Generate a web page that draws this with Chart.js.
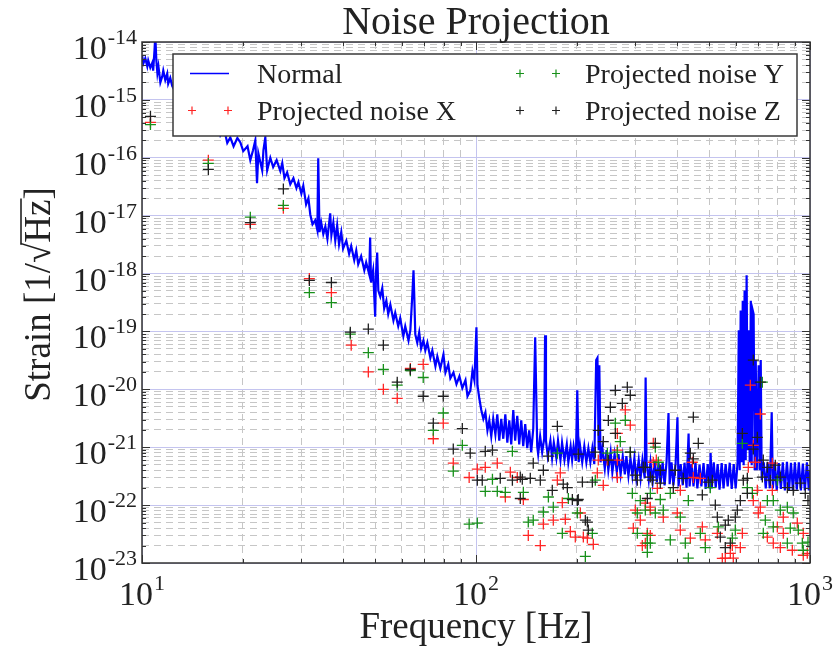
<!DOCTYPE html>
<html>
<head>
<meta charset="utf-8">
<script src="https://cdn.jsdelivr.net/npm/chart.js@4.4.1/dist/chart.umd.min.js"></script>
<style>
  body { margin: 0; background: #fff; }
  #wrap { width: 837px; height: 656px; }
</style>
</head>
<body>
<div id="wrap"><canvas id="noise" width="837" height="656"></canvas></div>
<script>
// Curva "Normal" (frecuencia en Hz, strain en 1/sqrt(Hz))
const normalFreq = [
  10.0, 10.1, 10.23, 10.37, 10.44, 10.59, 10.74, 10.8, 10.9, 10.96, 11.04, 11.12, 11.2, 11.35, 11.5, 11.58,
  11.74, 11.9, 11.98, 12.15, 12.32, 12.5, 13.02, 13.6, 14.1, 14.8, 15.4, 16.0, 16.7, 17.16, 17.6, 18.0,
  18.38, 18.8, 19.3, 19.7, 20.1, 20.7, 21.1, 21.5, 21.84, 22.1, 22.3, 22.9, 23.1, 23.4, 23.7, 24.22,
  24.7, 25.3, 25.95, 26.3, 26.7, 27.2, 27.8, 28.4, 29.0, 29.4, 30.0, 30.4, 31.0, 31.5, 31.9, 32.4,
  33.0, 33.5, 33.7, 34.0, 34.4, 34.9, 35.4, 35.9, 36.6, 36.9, 37.4, 37.9, 38.4, 38.9, 39.5, 40.0,
  40.9, 41.7, 42.3, 43.2, 43.8, 44.4, 45.3, 46.3, 46.9, 47.9, 48.2, 48.5, 49.2, 49.9, 50.2, 50.6,
  51.0, 51.7, 52.4, 53.1, 53.9, 54.6, 55.4, 56.6, 57.3, 58.5, 59.3, 60.6, 61.4, 62.8, 63.6, 64.5,
  65.0, 65.4, 65.8, 66.7, 67.6, 68.5, 69.6, 70.5, 71.5, 73.0, 74.0, 75.6, 76.6, 78.2, 79.9, 81.0,
  82.6, 83.8, 85.6, 87.4, 89.2, 91.0, 93.0, 94.3, 96.2, 97.6, 98.9, 100.3, 101, 102.3, 103.7, 105.2,
  106.7, 108.2, 109.6, 111.1, 112.6, 114.3, 115.8, 117.4, 119.0, 120.7, 122.4, 124.1, 125.8, 127.5, 129.3, 131,
  132.9, 134.7, 136.6, 138.5, 140.4, 142.4, 144.3, 146.3, 148.4, 149.4, 150.4, 151.4, 152.5, 153.5, 155.6, 157.8,
  160, 161, 162, 164, 167, 169, 171, 174, 176, 179, 181, 184, 187, 189, 192, 194,
  196, 199, 201, 203, 205, 208, 211, 214, 217, 220, 223, 226, 229, 231, 233, 234,
  236, 239, 243, 246, 249, 253, 256, 260, 264, 267, 271, 275, 279, 282, 286, 290,
  294, 298, 302, 307, 311, 315, 320, 322, 324, 329, 333, 338, 343, 348, 352, 357,
  362, 367, 372, 377, 380, 385, 390, 396, 401, 404, 410, 416, 421, 427, 433, 436,
  442, 448, 454, 460, 467, 473, 480, 487, 494, 501, 504, 508, 515, 522, 529, 536,
  544, 551, 559, 567, 575, 583, 591, 599, 607, 612, 616, 620, 624, 629, 633, 637,
  642, 646, 651, 655, 660, 665, 669, 674, 678, 683, 688, 693, 702, 707, 712, 717,
  727, 737, 747, 758, 768, 774, 785, 795, 806, 818, 829, 841, 853, 865, 877, 889,
  901, 913, 926, 939, 952, 965, 979, 992, 1000
];
const normalStrain = [
  5.9e-15, 4.3e-15, 5.2e-15, 3.8e-15, 4.8e-15, 3.6e-15, 4.4e-15, 3.2e-15, 7.2e-15, 1.3e-14, 4.8e-15, 2.9e-15, 3.8e-15, 2.0e-15, 2.55e-15, 3.2e-15,
  2.2e-15, 2.85e-15, 1.9e-15, 2.4e-15, 1.73e-15, 1.47e-15, 1.15e-15, 8.4e-16, 1.0e-15, 5.6e-16, 6.6e-16, 3.75e-16, 4.4e-16, 2.45e-16, 3.2e-16, 1.8e-16,
  2.25e-16, 1.58e-16, 2.2e-16, 1.84e-16, 1.3e-16, 1.58e-16, 9.1e-17, 1.35e-16, 2.0e-16, 3.65e-17, 1.2e-16, 6.1e-17, 1.35e-16, 2.25e-16, 6.1e-17, 1.0e-16,
  6.9e-17, 9.1e-17, 5.9e-17, 8.1e-17, 4.45e-17, 5.6e-17, 3.5e-17, 4.45e-17, 3.0e-17, 3.8e-17, 2.4e-17, 3.3e-17, 1.56e-17, 2.0e-17, 1.05e-17, 7.1e-18,
  8.3e-18, 5.6e-18, 9.8e-17, 5.2e-18, 7.6e-18, 4.8e-18, 6.5e-18, 4.0e-18, 1.1e-17, 4.6e-18, 7.6e-18, 3.7e-18, 6.8e-18, 3.2e-18, 5.2e-18, 2.7e-18,
  3.7e-18, 2.2e-18, 3.0e-18, 1.7e-18, 2.5e-18, 1.45e-18, 2.0e-18, 1.14e-18, 1.56e-18, 9.7e-19, 4.2e-18, 7.0e-19, 1.14e-18, 1.8e-19, 1.05e-18, 2.3e-18,
  5.1e-19, 4.0e-19, 5.6e-19, 2.5e-19, 3.4e-19, 2.0e-19, 2.9e-19, 1.55e-19, 2.1e-19, 1.23e-19, 1.7e-19, 8.3e-20, 1.23e-19, 7.0e-20, 1.05e-19, 4.5e-19,
  1.14e-18, 3.4e-19, 8.9e-20, 6.4e-20, 9.7e-20, 5.1e-20, 7.0e-20, 4.7e-20, 6.4e-20, 3.5e-20, 4.7e-20, 2.5e-20, 3.7e-20, 2.3e-20, 4.0e-20, 1.95e-20,
  2.7e-20, 1.55e-20, 1.95e-20, 1.23e-20, 1.68e-20, 1.05e-20, 1.44e-20, 7.6e-21, 9.6e-21, 2.1e-20, 1.44e-20, 1.18e-19, 1.18e-20, 7.0e-21, 4.4e-21, 3.1e-21,
  4.0e-21, 1.96e-21, 2.9e-21, 1.54e-21, 3.1e-21, 1.66e-21, 3.7e-21, 1.3e-21, 3.1e-21, 1.4e-21, 3.7e-21, 1.2e-21, 2.9e-21, 1.12e-21, 4.4e-21, 1.3e-21,
  3.5e-21, 1.12e-21, 2.9e-21, 1.04e-21, 2.5e-21, 9.6e-22, 1.96e-21, 8.2e-22, 2.1e-21, 1.44e-20, 7.9e-20, 9.6e-21, 1.04e-21, 7.6e-22, 1.54e-21, 8.2e-22,
  1.4e-21, 8.6e-20, 1.3e-21, 7.0e-22, 1.3e-21, 6.5e-22, 1.2e-21, 6.5e-22, 1.3e-21, 6.0e-22, 1.2e-21, 6.0e-22, 1.12e-21, 5.5e-22, 1.04e-21, 6.0e-22,
  1.04e-21, 5.8e-22, 9.6e-21, 5.5e-22, 1.04e-21, 5.5e-22, 1.04e-21, 5.5e-22, 9.6e-22, 5.5e-22, 9.6e-22, 5.1e-22, 3.2e-20, 3.5e-20, 8.9e-22, 2.6e-20,
  5.5e-22, 9.6e-22, 4.3e-22, 8.9e-22, 4.0e-22, 8.2e-22, 3.7e-22, 7.6e-22, 3.7e-22, 7.6e-22, 3.4e-22, 7.0e-22, 3.4e-22, 7.0e-22, 3.2e-22, 6.5e-22,
  3.2e-22, 6.5e-22, 2.9e-22, 6.0e-22, 2.9e-22, 6.0e-22, 2.9e-22, 1.6e-20, 5.5e-22, 2.7e-22, 5.5e-22, 2.5e-22, 5.8e-22, 2.5e-22, 5.3e-22, 2.3e-22,
  5.5e-22, 2.2e-22, 5.7e-22, 3.9e-21, 2.3e-22, 5.5e-22, 2.2e-22, 5.3e-22, 3.3e-21, 2.1e-22, 5.1e-22, 2.2e-22, 5.4e-22, 2.0e-22, 1.73e-21, 2.1e-22,
  5.1e-22, 2.1e-22, 5.5e-22, 1.95e-22, 5.0e-22, 2.1e-22, 5.3e-22, 1.9e-22, 5.1e-22, 1.95e-22, 7.9e-22, 1.95e-22, 5.5e-22, 2.0e-22, 5.1e-22, 1.85e-22,
  5.3e-22, 1.95e-22, 5.1e-22, 2.1e-22, 5.4e-22, 1.9e-22, 5.1e-22, 1.95e-22, 5.5e-22, 1.05e-19, 4.0e-22, 2.3e-19, 5.5e-22, 3.4e-19, 4.9e-22, 5.1e-19,
  6.0e-22, 9.3e-19, 8.9e-22, 1.05e-19, 5.5e-22, 3.4e-19, 4.9e-22, 2.3e-19, 2.0e-19, 4.0e-22, 3.2e-20, 4.0e-22, 2.6e-20, 4.0e-22, 3.2e-20, 2.7e-22,
  5.5e-22, 1.95e-22, 5.5e-22, 1.95e-22, 4.0e-21, 1.95e-22, 5.5e-22, 1.8e-22, 5.3e-22, 1.9e-22, 5.5e-22, 1.8e-22, 5.6e-22, 1.75e-22, 5.4e-22, 1.8e-22,
  5.5e-22, 1.85e-22, 5.5e-22, 1.8e-22, 5.2e-22, 1.8e-22, 5.5e-22, 1.8e-22, 4.0e-22
];

// Ruido proyectado X (rojo)
const noiseXFreq = [
  10.6, 15.8, 21.1, 26.5, 31.7, 36.9, 42.3, 47.6, 52.8, 58.1, 63.6, 69.5, 79.8, 74.5, 85.5, 95.4,
  100.9, 106.6, 115.8, 126.7, 132.9, 122.4, 138.6, 143.4, 155.8, 159.1, 170.4, 175.2, 178.8, 181.3, 185.1, 191.6,
  198.3, 205.3, 215.5, 224.5, 209.6, 232.3, 230.8, 240.5, 247.3, 265, 265, 279.9, 289.7, 265, 265, 339.5,
  339.5, 299.9, 310.4, 321.3, 332.6, 295.8, 332.6, 314.7, 346.6, 444.3, 447.4, 469.5, 349, 332.6, 363.7, 400.6,
  409, 325.8, 321.3, 409, 438.2, 476, 485.9, 527.9, 546.3, 577.3, 585.4, 618.5, 627.2, 557.7, 589.3, 662.7,
  710, 676.4, 685.9, 653.5, 695.5, 771.2, 771.2, 676.4, 710, 700.3, 831.8, 916.2, 798.3, 831.8, 954.6, 745.2,
  776.4, 814.9, 885.2, 981.5, 954.6
];
const noiseXStrain = [
  4.1e-16, 9.1e-17, 7.1e-18, 1.34e-17, 8.2e-19, 4.7e-19, 5.8e-20, 2.0e-20, 1.0e-20, 7.0e-21, 2.3e-20, 2.7e-20, 2.6e-21, 1.4e-21, 5.3e-22, 3.0e-22,
  4.2e-22, 4.5e-22, 5.3e-22, 3.7e-22, 3.0e-22, 1.38e-22, 1.25e-22, 3.0e-23, 2.0e-23, 4.7e-23, 5.5e-23, 2.7e-22, 3.6e-22, 1.1e-22, 5.7e-23, 3.5e-23,
  2.8e-23, 7.3e-23, 2.7e-23, 2.1e-23, 2.8e-23, 6.0e-22, 3.6e-22, 2.2e-22, 6.0e-22, 6.0e-22, 3.0e-22, 4.4e-21, 2.4e-21, 1.73e-21, 8.9e-22, 1.17e-21,
  5.5e-22, 8.2e-23, 5.5e-23, 1.08e-22, 8.2e-23, 4.0e-23, 3.0e-23, 2.0e-23, 6.0e-22, 5.5e-22, 3.0e-22, 2.9e-22, 1.95e-22, 9.2e-23, 6.2e-23, 7.3e-23,
  1.8e-22, 3.25e-23, 2.2e-23, 3.7e-23, 2.7e-23, 4.2e-23, 2.5e-23, 3.25e-23, 1.2e-23, 1.47e-23, 2.0e-23, 1.85e-23, 3.25e-23, 1.21e-23, 1.21e-23, 1.18e-20,
  3.75e-21, 1.08e-21, 5.5e-22, 4.5e-22, 1.8e-22, 5.3e-22, 1.8e-22, 1.2e-22, 9.2e-23, 7.3e-23, 6.2e-23, 4.9e-23, 4.2e-23, 3.25e-23, 3.25e-23, 2.8e-23,
  2.2e-23, 1.85e-23, 1.66e-23, 1.47e-23, 1.36e-23
];

// Ruido proyectado Y (verde)
const noiseYFreq = [
  10.6, 15.8, 21.1, 26.5, 31.7, 36.9, 42.04, 47.6, 52.8, 58.1, 63.6, 69.5, 79.8, 74.5, 91.0, 85.5,
  95.4, 100.9, 128.5, 112, 106.6, 115.8, 122.4, 138.6, 164.7, 175.2, 159.1, 148.4, 143.4, 170.4, 189, 181.3,
  201.1, 223, 212.5, 227.6, 247.3, 265, 279.9, 261.3, 270.4, 289.7, 293.8, 304.1, 321.3, 304.1, 325.8, 325.8,
  332.6, 344.2, 351.4, 332.6, 310.4, 356.3, 381.7, 344.2, 363.7, 409, 432.2, 502.9, 325.8, 381.7, 423.3, 469.5,
  485.9, 531.4, 585.4, 597.5, 432.2, 627.2, 720, 649.2, 672, 798.3, 745.2, 776.4, 734.9, 814.9, 855.3, 891.1,
  776.4, 873, 922.5, 724.7, 855.3, 948.5, 954.6, 986.2
];
const noiseYStrain = [
  3.75e-16, 8.0e-17, 9.4e-18, 1.5e-17, 4.7e-19, 3.15e-19, 9.0e-20, 4.3e-20, 2.2e-20, 1.18e-20, 2.1e-20, 1.6e-20, 3.9e-21, 1.96e-21, 1.08e-21, 3.85e-22,
  4.7e-23, 4.9e-23, 8.5e-22, 2.8e-22, 1.73e-22, 1.73e-22, 1.66e-22, 1.66e-22, 1.38e-22, 7.9e-22, 7.6e-23, 5.5e-23, 5.1e-23, 9.2e-23, 1.3e-22, 3.25e-23,
  7.3e-23, 3.25e-23, 1.3e-23, 2.7e-22, 7.9e-22, 8.2e-22, 2.9e-21, 2.6e-21, 1.25e-21, 8.2e-22, 1.6e-22, 7.3e-23, 8.2e-23, 3.25e-23, 3.0e-23, 1.53e-23,
  2.2e-23, 1.0e-21, 5.5e-22, 1.6e-22, 1.2e-22, 1.25e-22, 1.6e-22, 7.3e-23, 8.2e-23, 6.2e-23, 1.2e-22, 2.0e-22, 2.2e-23, 2.5e-23, 2.2e-23, 3.25e-23,
  1.85e-23, 4.2e-23, 2.7e-23, 3.7e-23, 1.21e-23, 1.17e-21, 1.33e-20, 2.0e-22, 1.6e-22, 2.7e-22, 1.2e-22, 1.2e-22, 5.5e-23, 8.2e-23, 9.2e-23, 7.3e-23,
  4.2e-23, 4.0e-23, 3.7e-23, 3.25e-23, 2.2e-23, 2.2e-23, 1.66e-23, 2.3e-23
];

// Ruido proyectado Z (negro)
const noiseZFreq = [
  10.6, 15.8, 21.1, 26.5, 31.7, 36.9, 42.04, 47.6, 52.8, 58.1, 63.6, 69.5, 79.8, 74.5, 91.0, 85.5,
  96.1, 100.9, 106.6, 112, 104.4, 118.2, 128.5, 137.6, 145.4, 135.7, 148.4, 159.1, 175.2, 164.7, 169.2, 182.5,
  194.3, 202.4, 202.4, 208.2, 223, 212.5, 216.9, 227.6, 232.3, 249, 261.3, 283.8, 289.7, 274.2, 252.5, 249,
  261.3, 289.7, 304.1, 299.9, 316.8, 332.6, 325.8, 344.2, 321.3, 356.3, 447.4, 463, 438.2, 447.4, 395.1, 417.5,
  389.7, 337.3, 356.3, 476, 496, 509.9, 520.6, 527.9, 557.7, 569.3, 597.5, 605.9, 618.5, 649.2, 631.4, 538.8,
  557.7, 577.3, 627.2, 676.4, 710, 695.5, 676.4, 724.7, 649.2, 720, 745.2, 787.3, 760.6, 814.9, 855.3, 891.1,
  935.4, 968, 986.2, 240.5, 155.8, 135.7, 187.7, 201.1, 215.5
];
const noiseZStrain = [
  5.2e-16, 6.3e-17, 7.6e-18, 2.9e-17, 7.6e-19, 7.0e-19, 9.7e-20, 1.1e-19, 5.8e-20, 1.33e-20, 2.2e-20, 7.6e-21, 7.6e-21, 2.6e-21, 2.1e-21, 9.3e-22,
  7.9e-22, 2.7e-22, 8.5e-22, 8.9e-22, 2.7e-22, 2.9e-22, 2.7e-22, 2.8e-22, 2.9e-22, 1.3e-22, 5.3e-22, 4.0e-22, 2.3e-21, 7.0e-22, 1.8e-22, 2.3e-22,
  1.25e-22, 1.25e-22, 7.6e-22, 2.5e-22, 2.5e-22, 5.5e-23, 3.7e-23, 8.2e-22, 1.96e-21, 6.0e-22, 9.6e-21, 1.09e-20, 7.9e-21, 5.7e-21, 4.9e-21, 2.9e-21,
  1.73e-21, 8.2e-22, 2.7e-22, 3.3e-22, 4.5e-22, 3.05e-22, 1.3e-22, 1.17e-21, 4.5e-22, 4.0e-22, 3.3e-21, 1.17e-21, 7.9e-22, 6.3e-22, 4.0e-22, 2.9e-22,
  2.0e-22, 2.7e-22, 2.4e-22, 1.5e-22, 2.5e-22, 2.7e-22, 1.0e-22, 6.2e-23, 4.5e-23, 5.5e-23, 6.2e-23, 8.2e-23, 1.2e-22, 1.6e-22, 2.7e-22, 2.8e-23,
  1.85e-23, 2.2e-23, 1.73e-21, 3.2e-20, 1.33e-20, 1.48e-21, 9.3e-22, 6.0e-22, 2.9e-22, 3.05e-22, 4.5e-22, 4.9e-22, 2.7e-22, 3.05e-22, 2.0e-22, 1.8e-22,
  2.4e-22, 1.6e-22, 1.2e-22, 1.25e-21, 2.7e-22, 3.05e-22, 2.0e-22, 1.2e-22, 5.1e-23
];

// Etiquetas de los ejes
const xTickValues = [10, 100, 1000];
const xTickExps = ['1', '2', '3'];
const yTickValues = [1e-14, 1e-15, 1e-16, 1e-17, 1e-18, 1e-19, 1e-20, 1e-21, 1e-22, 1e-23];
const yTickExps = ['-14', '-15', '-16', '-17', '-18', '-19', '-20', '-21', '-22', '-23'];

const RED = '#ff2424';
const GREEN = '#17901a';
const BLACK = '#202020';
const SERIF = '"Liberation Serif", "DejaVu Serif", serif';

// minor ticks 2..9 por decada
const minorGrid = (decades) => {
    const out = [];
    decades.forEach(d => { for (let m = 1; m <= 9; m++) out.push(m * d); });
    return out;
};
const xGrid = minorGrid([10, 100]).concat([1000]);
const yGrid = minorGrid([1e-23, 1e-22, 1e-21, 1e-20, 1e-19, 1e-18, 1e-17, 1e-16, 1e-15]).concat([1e-14]);

const isDecade = (v) => {
    const l = Math.log10(v);
    return Math.abs(l - Math.round(l)) < 1e-6;
};
const toPoints = (xs, ys) => xs.map((x, i) => ({ x: x, y: ys[i] }));

const gridColor = (ctx) => (ctx.tick && isDecade(ctx.tick.value)) ? '#c4c4ef' : '#c6c6c6';
const gridDash = (ctx) => (ctx.tick && !isDecade(ctx.tick.value)) ? [7, 5] : [];

// Marco, ticks internos, etiquetas, titulo y leyenda
const decorPlugin = {
    id: 'decor',
    afterDraw(chart) {
        const ctx = chart.ctx;
        const a = chart.chartArea;
        const xs = chart.scales.x;
        const ys = chart.scales.y;
        ctx.save();

        // ticks hacia adentro
        ctx.strokeStyle = '#333';
        ctx.lineWidth = 1;
        ctx.beginPath();
        xGrid.forEach(v => {
            const px = Math.round(xs.getPixelForValue(v)) + 0.5;
            const len = isDecade(v) ? 8 : 4;
            ctx.moveTo(px, a.bottom); ctx.lineTo(px, a.bottom - len);
            ctx.moveTo(px, a.top); ctx.lineTo(px, a.top + len);
        });
        yGrid.forEach(v => {
            const py = Math.round(ys.getPixelForValue(v)) + 0.5;
            const len = isDecade(v) ? 8 : 4;
            ctx.moveTo(a.left, py); ctx.lineTo(a.left + len, py);
            ctx.moveTo(a.right, py); ctx.lineTo(a.right - len, py);
        });
        ctx.stroke();

        // marco
        ctx.strokeStyle = '#333';
        ctx.lineWidth = 1.5;
        ctx.strokeRect(a.left, a.top, a.right - a.left, a.bottom - a.top);

        // etiquetas de ticks (10^n)
        ctx.fillStyle = '#222';
        ctx.textBaseline = 'alphabetic';
        yTickValues.forEach((v, i) => {
            const py = ys.getPixelForValue(v);
            ctx.textAlign = 'right';
            ctx.font = '22px ' + SERIF;
            const ew = ctx.measureText(yTickExps[i]).width;
            ctx.fillText(yTickExps[i], a.left - 5, py + 2);
            ctx.font = '34px ' + SERIF;
            ctx.fillText('10', a.left - 6 - ew, py + 17);
        });
        xTickValues.forEach((v, i) => {
            const px = xs.getPixelForValue(v);
            ctx.font = '34px ' + SERIF;
            const bw = ctx.measureText('10').width;
            ctx.font = '22px ' + SERIF;
            const ew = ctx.measureText(xTickExps[i]).width;
            const x0 = px - (bw + ew + 1) / 2;
            ctx.textAlign = 'left';
            ctx.font = '34px ' + SERIF;
            ctx.fillText('10', x0, 605);
            ctx.font = '22px ' + SERIF;
            ctx.fillText(xTickExps[i], x0 + bw + 1, 590);
        });

        // titulo
        ctx.textAlign = 'center';
        ctx.font = '40px ' + SERIF;
        ctx.fillText('Noise Projection', (a.left + a.right) / 2, 34);

        // titulo eje y con raiz
        ctx.save();
        ctx.translate(38, (a.top + a.bottom) / 2 - 8);
        ctx.rotate(-Math.PI / 2);
        ctx.font = '37px ' + SERIF;
        ctx.textAlign = 'left';
        const p1 = 'Strain [1/', p2 = '\u221A', p3 = 'Hz', p4 = ']';
        const w1 = ctx.measureText(p1).width, w2 = ctx.measureText(p2).width;
        const w3 = ctx.measureText(p3).width, w4 = ctx.measureText(p4).width;
        let tx = -(w1 + w2 + w3 + w4) / 2;
        const base = 12;
        ctx.fillText(p1, tx, base); tx += w1;
        ctx.fillText(p2, tx, base); tx += w2;
        ctx.fillText(p3, tx, base);
        ctx.strokeStyle = '#222';
        ctx.lineWidth = 1.6;
        ctx.beginPath();
        ctx.moveTo(tx - 2, base - 29); ctx.lineTo(tx + w3 + 1, base - 29);
        ctx.stroke();
        tx += w3;
        ctx.fillText(p4, tx, base);
        ctx.restore();

        // leyenda
        const ds = chart.data.datasets;
        ctx.fillStyle = '#fff';
        ctx.fillRect(173, 54, 624, 82);
        ctx.strokeStyle = '#3a3a3a';
        ctx.lineWidth = 1.5;
        ctx.strokeRect(173, 54, 624, 82);

        ctx.strokeStyle = ds[0].borderColor;
        ctx.lineWidth = 1.3;
        ctx.beginPath(); ctx.moveTo(190, 73.5); ctx.lineTo(229, 73.5); ctx.stroke();

        const cross = (x, y, color) => {
            ctx.strokeStyle = color; ctx.lineWidth = 1.2;
            ctx.beginPath();
            ctx.moveTo(x - 4, y); ctx.lineTo(x + 4, y);
            ctx.moveTo(x, y - 4); ctx.lineTo(x, y + 4);
            ctx.stroke();
        };
        cross(192, 110.5, ds[1].borderColor); cross(228, 110.5, ds[1].borderColor);
        cross(520, 73.5, ds[2].borderColor); cross(556, 73.5, ds[2].borderColor);
        cross(520, 110.5, ds[3].borderColor); cross(556, 110.5, ds[3].borderColor);

        ctx.fillStyle = '#222';
        ctx.font = '28px ' + SERIF;
        ctx.textAlign = 'left';
        ctx.fillText(ds[0].label, 257, 83);
        ctx.fillText(ds[1].label, 257, 120);
        ctx.fillText(ds[2].label, 585, 83);
        ctx.fillText(ds[3].label, 585, 120);

        ctx.restore();
    }
};

const crossSet = (label, xs, ys, color, order) => ({
    label: label,
    data: toPoints(xs, ys),
    showLine: false,
    pointStyle: 'cross',
    pointRadius: 5.5,
    pointHoverRadius: 5.5,
    borderColor: color,
    backgroundColor: color,
    pointBorderWidth: 1.3,
    order: order
});

new Chart(document.getElementById('noise').getContext('2d'), {
    type: 'scatter',
    data: {
        datasets: [
            {
                label: 'Normal',
                data: toPoints(normalFreq, normalStrain),
                showLine: true,
                borderColor: '#0000ff',
                backgroundColor: '#0000ff',
                borderWidth: 2.2,
                pointRadius: 0,
                tension: 0,
                order: 4
            },
            crossSet('Projected noise X', noiseXFreq, noiseXStrain, RED, 3),
            crossSet('Projected noise Y', noiseYFreq, noiseYStrain, GREEN, 2),
            crossSet('Projected noise Z', noiseZFreq, noiseZStrain, BLACK, 1)
        ]
    },
    options: {
        responsive: false,
        animation: false,
        layout: { padding: { top: 42, right: 27, left: 0, bottom: 0 } },
        plugins: {
            legend: { display: false },
            tooltip: { enabled: false },
            title: { display: false }
        },
        scales: {
            x: {
                type: 'logarithmic',
                min: 10,
                max: 1000,
                afterBuildTicks: (s) => { s.ticks = xGrid.map(v => ({ value: v })); },
                afterFit: (s) => { s.height = 93; },
                ticks: { display: false, autoSkip: false },
                grid: { color: gridColor, lineWidth: 1, drawTicks: false },
                border: { display: false, dash: gridDash },
                title: {
                    display: true,
                    text: 'Frequency [Hz]',
                    color: '#222',
                    font: { family: SERIF, size: 37 },
                    padding: { top: 0, bottom: 6 }
                }
            },
            y: {
                type: 'logarithmic',
                min: 1e-23,
                max: 1e-14,
                afterBuildTicks: (s) => { s.ticks = yGrid.map(v => ({ value: v })); },
                afterFit: (s) => { s.width = 142; },
                ticks: { display: false, autoSkip: false },
                grid: { color: gridColor, lineWidth: 1, drawTicks: false },
                border: { display: false, dash: gridDash }
            }
        }
    },
    plugins: [decorPlugin]
});
</script>
</body>
</html>
